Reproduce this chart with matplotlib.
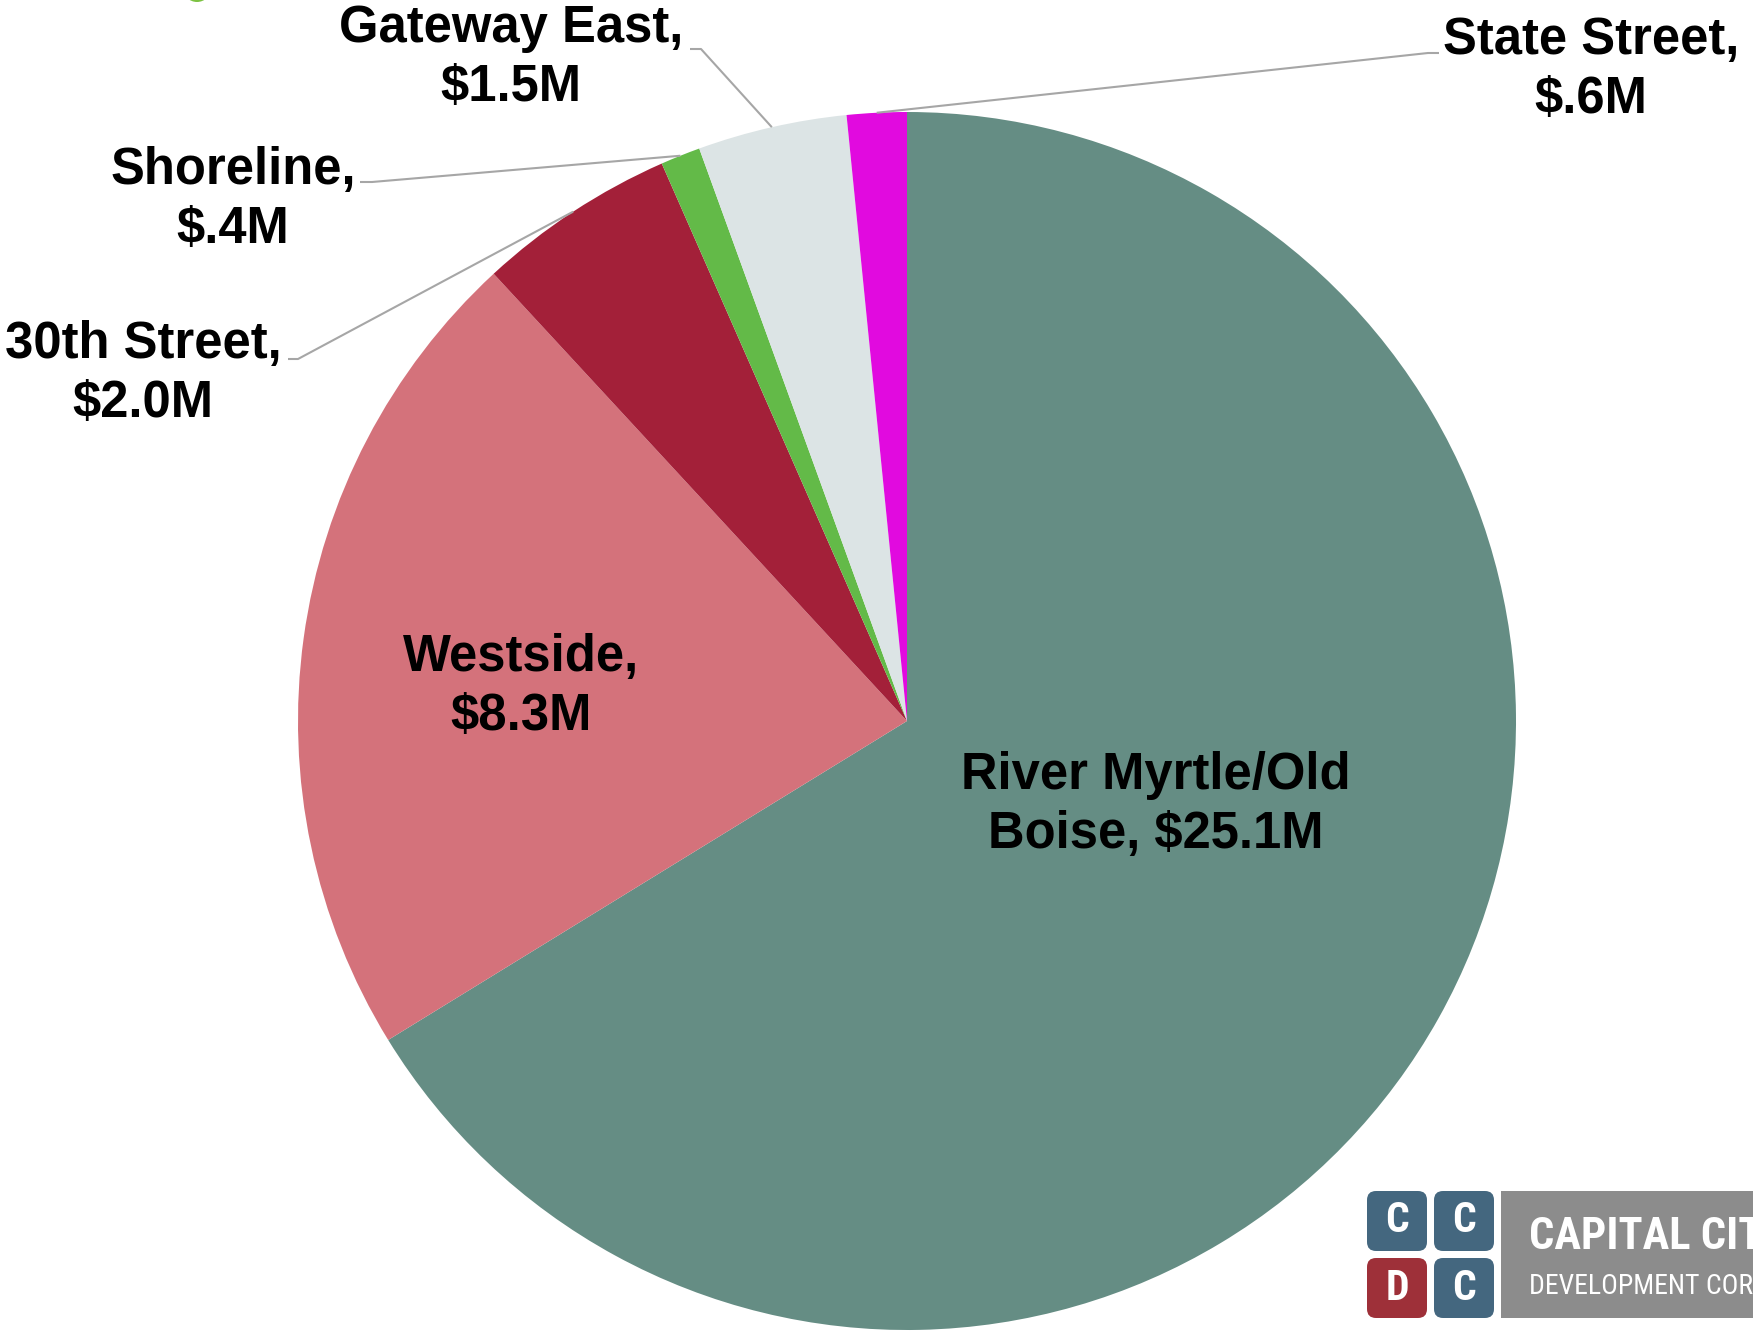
import numpy as np
import matplotlib
matplotlib.use("Agg")
import matplotlib.pyplot as plt
from matplotlib.patches import FancyBboxPatch, Rectangle, Circle

# ---- data ----
districts = ["River Myrtle/Old Boise", "Westside", "30th Street", "Shoreline", "Gateway East", "State Street"]
values = [25.1, 8.3, 2.0, 0.4, 1.5, 0.6]
value_labels = ["$25.1M", "$8.3M", "$2.0M", "$.4M", "$1.5M", "$.6M"]
colors = ["#658d84", "#d4727b", "#a32039", "#63ba48", "#dce4e5", "#e10adf"]

W, H = 1753, 1331
fig = plt.figure(figsize=(W / 100, H / 100), dpi=100)
ax = fig.add_axes([0, 0, 1, 1])

def Y(y):  # pixel-from-top to data
    return H - y

cx, cy, R = 907, Y(721), 609
wedges, _ = ax.pie(values, colors=colors, startangle=90, counterclock=False,
                   center=(cx, cy), radius=R, wedgeprops=dict(linewidth=0))
ax.set_xlim(0, W)
ax.set_ylim(0, H)
ax.set_aspect("auto")
ax.axis("off")

font = dict(family="Liberation Sans", weight="bold", fontsize=36.5, color="black",
            ha="center", va="center", multialignment="center", linespacing=1.28)
dy = 4

# inside labels
ax.text(1156, Y(801 + dy), "River Myrtle/Old\nBoise, " + value_labels[0], **font)
ax.text(521, Y(683 + dy), districts[1] + ",\n" + value_labels[1], **font)

# outside labels: (index, label centre, elbow start, elbow end)
outside = [
    (2, (143, 370), (288, 359), (298, 359)),
    (3, (233, 196), (360, 182), (372, 182)),
    (4, (511, 54), (690, 49), (701, 49)),
    (5, (1591, 66), (1439, 53), (1428, 53)),
]
for i, (lx, ly), (ax0, ay0), (ax1, ay1) in outside:
    ax.text(lx, Y(ly + dy), districts[i] + ",\n" + value_labels[i], **font)
    w = wedges[i]
    mid = np.deg2rad((w.theta1 + w.theta2) / 2)
    ex, ey = cx + R * np.cos(mid), cy + R * np.sin(mid)
    ax.plot([ax0, ax1, ex], [Y(ay0), Y(ay1), ey], color="#a6a6a6", lw=1.5,
            solid_capstyle="butt")

# green marker peeking at top-left
ax.add_patch(Circle((197, Y(-12)), 14, color="#7cc242", lw=0, clip_on=True))

# logo
cond = dict(family=["Roboto Condensed", "DejaVu Sans"], stretch="condensed")
sq = [((1367, 1191), "#44677f", "C"), ((1434, 1191), "#44677f", "C"),
      ((1367, 1258), "#9e3039", "D"), ((1434, 1258), "#44677f", "C")]
for (x0, y0), c, t in sq:
    ax.add_patch(FancyBboxPatch((x0 + 6, Y(y0 + 60) + 6), 48, 48,
                                boxstyle="round,pad=6,rounding_size=9",
                                fc=c, ec="none"))
    ax.text(x0 + 30, Y(y0 + 30), t, weight="bold", fontsize=30, color="white",
            ha="center", va="center", **cond)
ax.add_patch(Rectangle((1501, Y(1318)), W - 1501, 127, fc="#8c8c8c", ec="none"))
ax.text(1529, Y(1237), "CAPITAL CITY", weight="bold", fontsize=32, color="white",
        ha="left", va="center", clip_on=True, **cond)
ax.text(1529, Y(1286), "DEVELOPMENT CORPORATION", fontsize=20, color="white",
        ha="left", va="center", clip_on=True, **cond)

fig.savefig("out.png", dpi=100, facecolor="white")
